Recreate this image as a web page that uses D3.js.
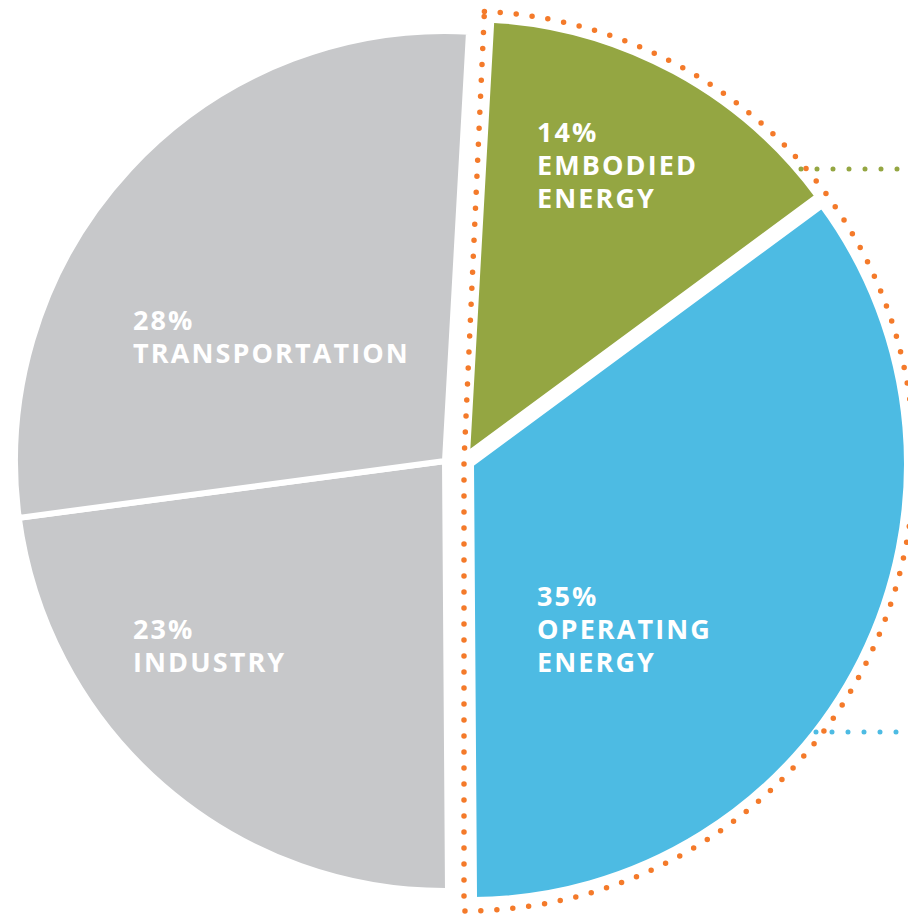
<!DOCTYPE html>
<html>
<head>
<meta charset="utf-8">
<script src="https://cdn.jsdelivr.net/npm/d3@7"></script>
<style>
  html, body { margin: 0; padding: 0; background: #fff; }
  svg { display: block; }
  .lbl { font-family: "Open Sans", "DejaVu Sans", sans-serif; font-weight: 700; fill: #fff; font-size: 27px; letter-spacing: 2.1px; }
</style>
</head>
<body>
<svg id="chart" width="908" height="914"></svg>
<script>
// ---- data ----
const categories = ["EMBODIED ENERGY", "OPERATING ENERGY", "INDUSTRY", "TRANSPORTATION"];
const values = [14, 35, 23, 28];
const labelLines = [["14%", "EMBODIED", "ENERGY"], ["35%", "OPERATING", "ENERGY"], ["23%", "INDUSTRY"], ["28%", "TRANSPORTATION"]];

// ---- styling / layout ----
const colors = ["#94a642", "#4dbbe3", "#c7c8ca", "#c7c8ca"];
const centers = [[467, 455], [471, 464], [445, 461], [445, 461]];
const radii = [436, 436, 430, 430];
const labelPos = [[537, 142], [537, 606], [133, 639], [133, 330]];
const lineH = 33;
const deg = Math.PI / 180;

const svg = d3.select("#chart");

const pie = d3.pie().sort(null).startAngle(3.2 * deg).endAngle(363.2 * deg);
const arcs = pie(values);

arcs.forEach((a, i) => {
  const arc = d3.arc().innerRadius(0).outerRadius(radii[i]);
  svg.append("path")
    .attr("transform", `translate(${centers[i][0]},${centers[i][1]})`)
    .attr("d", arc(a))
    .attr("fill", colors[i])
    .attr("stroke", "#fff")
    .attr("stroke-width", 6)
    .attr("stroke-linejoin", "miter");
});

// highlight outline around embodied + operating
const outline = d3.arc().innerRadius(0).outerRadius(450)
  .startAngle(2.6 * deg).endAngle(180 * deg);
svg.append("path")
  .attr("transform", "translate(464,461)")
  .attr("d", outline())
  .attr("fill", "none")
  .attr("stroke", "#f47a2a")
  .attr("stroke-width", 5.5)
  .attr("stroke-linecap", "round")
  .attr("stroke-dasharray", "0 16");

// leader lines
const x = d3.scaleLinear().domain([0, 1]).range([0, 908]);
[[801, 169, "#94a642"], [816, 732, "#4dbbe3"]].forEach(([x0, y, c]) => {
  svg.append("line")
    .attr("x1", x0).attr("x2", x(1) + 10)
    .attr("y1", y).attr("y2", y)
    .attr("stroke", c)
    .attr("stroke-width", 5)
    .attr("stroke-linecap", "round")
    .attr("stroke-dasharray", "0 16");
});

// labels
labelLines.forEach((lines, i) => {
  const t = svg.append("text").attr("class", "lbl");
  lines.forEach((s, j) => {
    t.append("tspan").attr("x", labelPos[i][0]).attr("y", labelPos[i][1] + j * lineH).text(s);
  });
});
</script>
</body>
</html>
